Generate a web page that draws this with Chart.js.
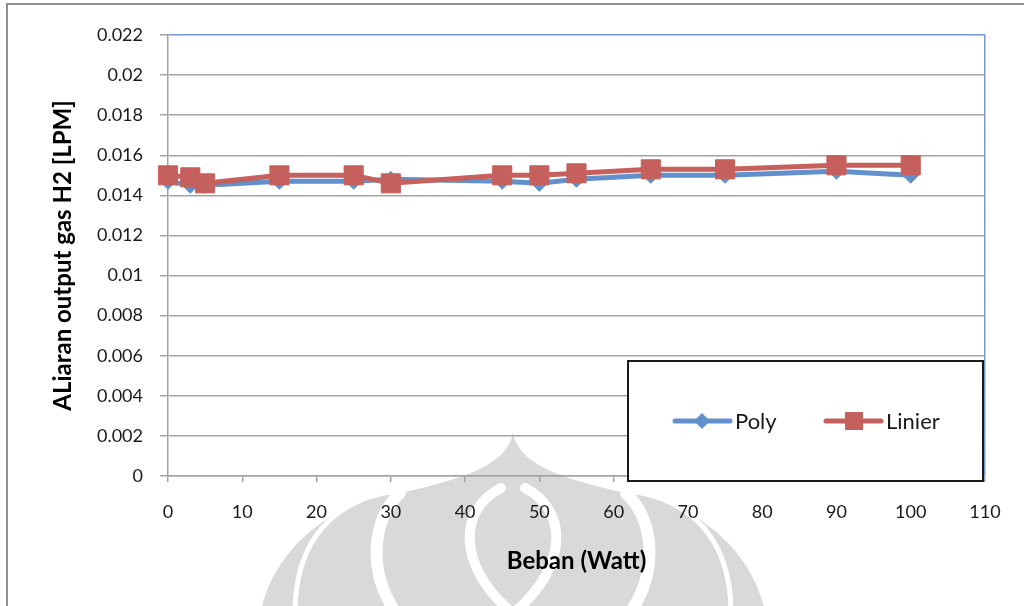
<!DOCTYPE html>
<html>
<head>
<meta charset="utf-8">
<script src="https://cdn.jsdelivr.net/npm/chart.js@4/dist/chart.umd.min.js"></script>
<style>
  html, body { margin: 0; padding: 0; background: #ffffff; }
  canvas { display: block; }
</style>
</head>
<body>
<canvas id="chart" width="1024" height="606"></canvas>
<script>
// Load (W) against H2 output flow (LPM) for the two fits
const loadWatt = [0, 3, 5, 15, 25, 30, 45, 50, 55, 65, 75, 90, 100];
const polyFlow = [0.0147, 0.0145, 0.0145, 0.0147, 0.0147, 0.0148, 0.0147, 0.0146, 0.0148, 0.0150, 0.0150, 0.0152, 0.0150];
const linierFlow = [0.0150, 0.0149, 0.0146, 0.0150, 0.0150, 0.0146, 0.0150, 0.0150, 0.0151, 0.0153, 0.0153, 0.0155, 0.0155];

const seriesNames = ['Poly', 'Linier'];
const yTickValues = [0, 0.002, 0.004, 0.006, 0.008, 0.01, 0.012, 0.014, 0.016, 0.018, 0.02, 0.022];
const yTickLabels = ['0', '0.002', '0.004', '0.006', '0.008', '0.01', '0.012', '0.014', '0.016', '0.018', '0.02', '0.022'];
const xTickValues = [0, 10, 20, 30, 40, 50, 60, 70, 80, 90, 100, 110];
const xTitle = 'Beban (Watt)';
const yTitle = 'ALiaran output gas H2 [LPM]';

const BLUE = '#6290cc';
const RED = '#c6605c';
const GRID = '#a3a3a3';
const FRAME_BLUE = '#7499cf';
const TEXT = '#1a1a1a';

Chart.defaults.font.family = 'Lato, "Open Sans", sans-serif';

// faint emblem behind the chart plus the outer frame
const backdrop = {
  id: 'backdrop',
  beforeDraw(chart) {
    const ctx = chart.ctx;
    ctx.save();
    ctx.fillStyle = '#ffffff';
    ctx.fillRect(0, 0, chart.width, chart.height);

    const cx = 513;
    const mx = (x) => 2 * cx - x;
    ctx.fillStyle = '#d9d9d9';
    ctx.beginPath();
    ctx.moveTo(cx, 432);
    ctx.bezierCurveTo(509, 462, 470, 478, 400, 493);
    ctx.bezierCurveTo(340, 500, 280, 540, 262, 606);
    ctx.lineTo(mx(262), 606);
    ctx.bezierCurveTo(mx(280), 540, mx(340), 500, mx(400), 493);
    ctx.bezierCurveTo(mx(470), 478, mx(509), 462, cx, 432);
    ctx.closePath();
    ctx.fill();

    ctx.strokeStyle = '#ffffff';
    ctx.lineCap = 'round';
    const curve = (pts, w) => {
      ctx.lineWidth = w;
      ctx.beginPath();
      ctx.moveTo(pts[0], pts[1]);
      ctx.bezierCurveTo(pts[2], pts[3], pts[4], pts[5], pts[6], pts[7]);
      ctx.stroke();
    };
    const both = (pts, w) => {
      curve(pts, w);
      curve([mx(pts[0]), pts[1], mx(pts[2]), pts[3], mx(pts[4]), pts[5], mx(pts[6]), pts[7]], w);
    };
    both([400, 493, 372, 520, 368, 570, 394, 610], 12);
    both([372, 496, 315, 515, 296, 560, 295, 610], 5);
    both([501, 488, 458, 510, 458, 565, 509, 610], 10);

    ctx.strokeStyle = '#8e8e8e';
    ctx.lineWidth = 2;
    ctx.strokeRect(7, 4, 1040, 640);
    ctx.restore();
  }
};

// legend box in the lower right of the plot
const legendBox = {
  id: 'legendBox',
  afterDraw(chart) {
    const ctx = chart.ctx;
    ctx.save();
    ctx.fillStyle = '#ffffff';
    ctx.fillRect(628, 361, 355, 120);
    ctx.strokeStyle = '#1a1a1a';
    ctx.lineWidth = 2;
    ctx.strokeRect(628, 361, 355, 120);

    const y = 421;
    ctx.lineCap = 'round';
    // Poly
    ctx.strokeStyle = BLUE;
    ctx.lineWidth = 5;
    ctx.beginPath(); ctx.moveTo(675, y); ctx.lineTo(730, y); ctx.stroke();
    ctx.fillStyle = BLUE;
    ctx.beginPath();
    ctx.moveTo(702 - 8, y); ctx.lineTo(702, y - 8); ctx.lineTo(702 + 8, y); ctx.lineTo(702, y + 8);
    ctx.closePath(); ctx.fill();
    // Linier
    ctx.strokeStyle = RED;
    ctx.beginPath(); ctx.moveTo(826, y); ctx.lineTo(881, y); ctx.stroke();
    ctx.fillStyle = RED;
    ctx.fillRect(854 - 9, y - 9, 18, 18);

    ctx.fillStyle = TEXT;
    ctx.font = '22px Lato, "Open Sans", sans-serif';
    ctx.textBaseline = 'middle';
    ctx.textAlign = 'left';
    ctx.fillText(seriesNames[0], 735, y + 1);
    ctx.fillText(seriesNames[1], 886, y + 1);
    ctx.restore();
  }
};

const toPoints = (ys) => loadWatt.map((x, i) => ({ x: x, y: ys[i] }));

new Chart(document.getElementById('chart'), {
  type: 'line',
  data: {
    datasets: [
      {
        label: seriesNames[0],
        data: toPoints(polyFlow),
        borderColor: BLUE,
        backgroundColor: BLUE,
        borderWidth: 5,
        pointStyle: 'rectRot',
        pointRadius: 8,
        pointBorderWidth: 1,
        pointBorderColor: BLUE,
        pointBackgroundColor: BLUE,
        tension: 0,
        clip: false,
        order: 1
      },
      {
        label: seriesNames[1],
        data: toPoints(linierFlow),
        borderColor: RED,
        backgroundColor: RED,
        borderWidth: 5,
        pointStyle: 'rect',
        pointRadius: 13.5,
        pointBorderWidth: 1,
        pointBorderColor: RED,
        pointBackgroundColor: RED,
        tension: 0,
        clip: false,
        order: 0
      }
    ]
  },
  options: {
    responsive: false,
    devicePixelRatio: 1,
    animation: false,
    layout: { padding: { left: 0, right: 39, top: 35, bottom: 0 } },
    plugins: { legend: { display: false }, tooltip: { enabled: false } },
    scales: {
      x: {
        type: 'linear',
        min: 0,
        max: 110,
        afterBuildTicks: (scale) => { scale.ticks = xTickValues.map(v => ({ value: v })); },
        afterFit: (scale) => { scale.height = 130; },
        ticks: { color: TEXT, font: { size: 18 }, padding: 19, maxRotation: 0 },
        grid: {
          color: (c) => (c.index === xTickValues.length - 1 ? FRAME_BLUE : 'rgba(0,0,0,0)'),
          tickColor: GRID,
          tickLength: 6,
          lineWidth: 1.5
        },
        border: { display: true, color: GRID, width: 1.5 },
        title: {
          display: true,
          text: xTitle,
          color: '#000000',
          font: { size: 24, weight: 'bold' },
          padding: { top: 0, bottom: 30 }
        }
      },
      y: {
        type: 'linear',
        min: 0,
        max: 0.022,
        afterBuildTicks: (scale) => { scale.ticks = yTickValues.map(v => ({ value: v })); },
        afterFit: (scale) => { scale.width = 168; },
        ticks: {
          color: TEXT,
          font: { size: 18 },
          padding: 17,
          callback: (v, i) => yTickLabels[i]
        },
        grid: {
          color: (c) => (c.index === yTickValues.length - 1 ? FRAME_BLUE : GRID),
          tickColor: GRID,
          tickLength: 8,
          lineWidth: 1.5
        },
        border: { display: true, color: GRID, width: 1.5 },
        title: {
          display: true,
          text: yTitle,
          color: '#000000',
          font: { size: 24, weight: 'bold' },
          padding: { top: 49, bottom: 0 }
        }
      }
    }
  },
  plugins: [backdrop, legendBox]
});
</script>
</body>
</html>
